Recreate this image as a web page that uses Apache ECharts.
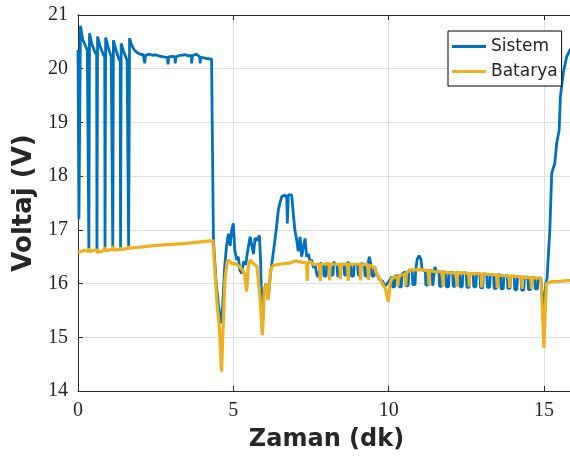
<!DOCTYPE html>
<html>
<head>
<meta charset="utf-8">
<script src="https://cdn.jsdelivr.net/npm/echarts@6/dist/echarts.min.js"></script>
<style>html,body{margin:0;padding:0;background:#fff;}#c{width:570px;height:463px;}</style>
</head>
<body>
<div id="c"></div>
<script>
const seriesNames = ['Sistem', 'Batarya'];
const xTicks = [0, 5, 10, 15];
const yTicks = [14, 15, 16, 17, 18, 19, 20, 21];

const sistem = [
[0.00,20.35],[0.03,17.2],[0.08,20.8],[0.15,20.55],[0.22,20.45],[0.30,20.35],[0.34,20.32],
[0.35,16.62],[0.37,20.66],[0.45,20.45],[0.55,20.30],[0.60,20.26],
[0.61,16.60],[0.63,20.60],[0.72,20.40],[0.82,20.26],[0.86,20.22],
[0.87,16.60],[0.89,20.58],[0.98,20.38],[1.07,20.22],[1.11,20.19],
[1.12,16.62],[1.14,20.53],[1.23,20.33],[1.32,20.18],[1.36,20.13],
[1.37,16.62],[1.39,20.47],[1.48,20.30],[1.58,20.16],[1.62,20.13],
[1.63,16.64],[1.66,20.57],[1.72,20.45],[1.80,20.36],[1.90,20.30],[2.00,20.27],[2.10,20.26],
[2.15,20.10],[2.17,20.25],[2.30,20.27],[2.40,20.25],[2.50,20.26],[2.60,20.24],[2.75,20.22],
[2.88,20.21],[2.90,20.08],[2.92,20.22],[3.05,20.23],[3.12,20.22],[3.13,20.10],[3.15,20.22],
[3.30,20.25],[3.45,20.26],[3.55,20.24],[3.65,20.25],[3.66,20.10],[3.68,20.24],[3.80,20.27],
[3.92,20.22],[3.93,20.10],[3.95,20.21],[4.05,20.20],[4.15,20.19],[4.30,20.18],
[4.36,16.8],[4.45,16.0],[4.55,15.45],[4.60,15.26],[4.66,15.6],[4.72,16.3],[4.78,16.69],
[4.84,16.93],[4.90,16.70],[4.95,17.0],[5.00,17.12],[5.05,16.62],[5.11,16.44],[5.16,16.5],
[5.21,16.25],[5.27,16.19],[5.33,16.41],[5.40,16.35],[5.46,16.6],[5.54,16.87],[5.60,16.9],
[5.65,16.55],[5.70,16.85],[5.76,16.8],[5.84,16.9],[5.88,16.4],[5.93,15.1],[5.98,15.85],
[6.05,16.0],[6.12,15.72],[6.20,16.2],[6.27,16.5],[6.34,16.81],[6.40,17.1],[6.45,17.37],
[6.50,17.5],[6.56,17.62],[6.62,17.6],[6.66,17.65],[6.72,17.6],[6.74,17.12],[6.77,17.65],
[6.83,17.62],[6.88,17.65],[6.93,17.31],[6.98,17.0],[7.04,16.81],[7.09,16.6],[7.15,16.87],
[7.20,16.5],[7.26,16.7],[7.31,16.84],[7.36,16.5],[7.42,16.55],[7.47,16.4],[7.52,16.44],
[7.58,16.3],[7.63,16.35],
[7.68,16.35],[7.70,16.14],[7.77,16.14],[7.79,16.38],
[7.90,16.35],[7.92,16.14],[7.99,16.14],[8.01,16.36],
[8.12,16.35],[8.14,16.16],[8.21,16.16],[8.23,16.40],
[8.34,16.34],[8.36,16.14],[8.43,16.14],[8.45,16.36],
[8.56,16.36],[8.58,16.16],[8.65,16.16],[8.67,16.40],
[8.78,16.35],[8.80,16.14],[8.87,16.14],[8.89,16.35],
[9.00,16.36],[9.02,16.16],[9.09,16.16],[9.11,16.37],
[9.22,16.36],[9.24,16.14],[9.31,16.14],[9.33,16.36],[9.38,16.50],[9.42,16.38],
[9.44,16.36],[9.46,16.14],[9.53,16.14],[9.55,16.32],
[9.60,16.2],[9.70,16.08],[9.80,16.05],[9.88,15.95],[9.95,16.0],[10.02,16.05],
[10.10,16.13],[10.12,15.94],[10.19,15.94],[10.21,16.14],
[10.32,16.15],[10.34,15.94],[10.41,15.94],[10.43,16.18],
[10.54,16.22],[10.56,15.96],[10.63,15.96],[10.65,16.25],
[10.76,16.25],[10.78,15.98],[10.85,15.98],[10.87,16.25],
[10.92,16.45],[10.98,16.52],[11.04,16.45],[11.08,16.25],
[11.18,16.24],[11.20,15.97],[11.27,15.97],[11.29,16.24],
[11.40,16.24],[11.42,15.96],[11.47,15.96],[11.49,16.31],[11.53,16.22],
[11.62,16.22],[11.64,15.95],[11.71,15.95],[11.73,16.22],
[11.84,16.21],[11.86,15.94],[11.93,15.94],[11.95,16.21],
[12.06,16.21],[12.08,15.95],[12.15,15.95],[12.17,16.20],
[12.28,16.20],[12.30,15.94],[12.37,15.94],[12.39,16.20],
[12.50,16.20],[12.52,15.93],[12.59,15.93],[12.61,16.19],
[12.72,16.19],[12.74,15.94],[12.81,15.94],[12.83,16.18],
[12.94,16.18],[12.96,15.92],[13.03,15.92],[13.05,16.18],
[13.16,16.17],[13.18,15.93],[13.25,15.93],[13.27,16.17],
[13.38,16.16],[13.40,15.91],[13.47,15.91],[13.49,16.16],
[13.60,16.16],[13.62,15.90],[13.69,15.90],[13.71,16.15],
[13.82,16.15],[13.84,15.91],[13.91,15.91],[13.93,16.14],
[14.04,16.14],[14.06,15.89],[14.13,15.89],[14.15,16.13],
[14.26,16.13],[14.28,15.88],[14.35,15.88],[14.37,16.12],
[14.48,16.12],[14.50,15.89],[14.57,15.89],[14.59,16.11],
[14.70,16.11],[14.72,15.90],[14.79,15.90],[14.81,16.10],
[14.90,16.10],[14.98,15.5],[15.06,16.0],[15.10,16.1],[15.19,17.0],[15.25,18.05],
[15.35,18.24],[15.41,18.61],[15.49,18.86],[15.53,19.48],[15.62,19.91],[15.73,20.22],
[15.84,20.35],[16.00,20.45]
];

const batarya = [
[0.00,16.58],[0.20,16.62],[0.35,16.60],[0.36,16.66],[0.38,16.60],[0.60,16.63],[0.62,16.58],
[0.87,16.62],[0.88,16.68],[0.90,16.61],[1.12,16.64],[1.13,16.70],[1.15,16.62],[1.37,16.64],
[1.38,16.68],[1.40,16.63],[1.63,16.66],[1.64,16.70],[1.66,16.66],[2.00,16.68],[2.50,16.71],
[3.00,16.73],[3.50,16.75],[4.00,16.78],[4.34,16.80],
[4.40,16.3],[4.48,15.6],[4.55,15.2],[4.60,14.6],[4.62,14.36],[4.66,15.0],[4.73,16.06],
[4.80,16.4],[4.84,16.44],[4.95,16.37],[5.05,16.38],[5.11,16.36],[5.21,16.31],[5.30,16.25],
[5.36,16.19],[5.43,15.85],[5.48,16.3],[5.54,16.44],[5.65,16.37],[5.76,16.32],[5.86,15.75],
[5.94,15.04],[6.00,15.88],[6.07,16.0],[6.12,15.69],[6.20,16.25],[6.27,16.34],[6.50,16.36],
[6.80,16.38],[7.00,16.42],[7.20,16.40],[7.36,16.38],[7.38,16.05],[7.40,16.38],[7.47,16.41],
[7.60,16.35],[7.78,16.36],[7.80,16.05],[7.82,16.36],[8.08,16.37],[8.10,16.06],[8.12,16.36],
[8.43,16.36],[8.45,16.08],[8.47,16.35],[8.68,16.37],[8.70,16.05],[8.72,16.36],[9.08,16.36],
[9.10,16.06],[9.12,16.35],[9.33,16.36],[9.35,16.07],[9.37,16.34],[9.55,16.30],
[9.60,16.2],[9.75,16.05],[9.90,15.9],[9.99,15.66],[10.05,16.0],[10.10,16.1],[10.20,16.12],
[10.28,16.12],[10.30,15.95],[10.32,16.14],[10.53,16.18],[10.55,15.96],[10.57,16.2],
[10.70,16.25],[11.00,16.26],[11.28,16.24],[11.30,15.96],[11.32,16.24],[11.50,16.22],
[11.73,16.22],[11.75,15.95],[11.77,16.21],[12.00,16.20],[12.18,16.20],[12.20,15.94],
[12.22,16.20],[12.58,16.19],[12.60,15.94],[12.62,16.19],[12.98,16.18],[13.00,15.93],
[13.02,16.18],[13.48,16.16],[13.50,15.92],[13.52,16.16],[13.88,16.14],[13.90,15.92],
[13.92,16.14],[14.28,16.13],[14.30,15.90],[14.32,16.12],[14.58,16.11],[14.60,15.90],
[14.62,16.11],[14.80,16.10],[14.90,16.10],[14.95,15.5],[15.00,14.8],[15.03,15.3],
[15.08,16.0],[15.20,16.03],[15.50,16.04],[15.84,16.06],[16.00,16.07]
];

const chart = echarts.init(document.getElementById('c'), null, {renderer: 'canvas'});
const axisCol = '#262626';
const tickFont = {fontFamily: 'Liberation Serif', fontSize: 20, color: '#262626'};
chart.setOption({
  animation: false,
  backgroundColor: '#fff',
  grid: {left: 78, top: 15, bottom: 72, right: -5, containLabel: false, outerBoundsMode: 'none'},
  legend: {
    orient: 'vertical', left: 448, top: 31,
    data: seriesNames.map(n => ({name: n, icon: 'rect'})),
    itemWidth: 34, itemHeight: 3, itemGap: 4,
    padding: [5, 4, 4, 4],
    borderColor: '#000', borderWidth: 1, backgroundColor: '#fff',
    textStyle: {fontFamily: 'DejaVu Sans', fontSize: 17, color: '#262626', lineHeight: 21}
  },
  xAxis: [{
    type: 'value', min: xTicks[0], max: 16, interval: 5,
    name: 'Zaman (dk)', nameLocation: 'middle', nameGap: 37,
    nameTextStyle: {fontFamily: 'DejaVu Sans', fontWeight: 'bold', fontSize: 24, color: '#262626'},
    axisLine: {show: true, lineStyle: {color: axisCol, width: 1}},
    axisTick: {show: true, inside: true, length: 5, lineStyle: {color: axisCol}},
    axisLabel: Object.assign({margin: 10, showMaxLabel: false}, tickFont),
    splitLine: {show: true, lineStyle: {color: '#dedede', width: 1}}
  }, {
    type: 'value', position: 'top', min: xTicks[0], max: 16, interval: 5,
    axisLine: {show: true, onZero: false, lineStyle: {color: axisCol, width: 1}},
    axisTick: {show: true, inside: true, length: 5, lineStyle: {color: axisCol}},
    axisLabel: {show: false}, splitLine: {show: false}
  }],
  yAxis: [{
    type: 'value', min: yTicks[0], max: yTicks[yTicks.length - 1], interval: 1,
    name: 'Voltaj (V)', nameLocation: 'middle', nameGap: 31,
    nameTextStyle: {fontFamily: 'DejaVu Sans', fontWeight: 'bold', fontSize: 26, color: '#262626'},
    axisLine: {show: true, lineStyle: {color: axisCol, width: 1}},
    axisTick: {show: true, inside: true, length: 5, lineStyle: {color: axisCol}},
    axisLabel: Object.assign({margin: 10}, tickFont),
    splitLine: {show: true, lineStyle: {color: '#dedede', width: 1}}
  }],
  series: [{
    name: seriesNames[0], type: 'line', data: sistem, showSymbol: false, symbol: 'none',
    lineStyle: {color: '#0072BD', width: 2.8}, itemStyle: {color: '#0072BD'}, z: 2
  }, {
    name: seriesNames[1], type: 'line', data: batarya, showSymbol: false, symbol: 'none',
    lineStyle: {color: '#EDB120', width: 3.2}, itemStyle: {color: '#EDB120'}, z: 3
  }]
});
</script>
</body>
</html>
